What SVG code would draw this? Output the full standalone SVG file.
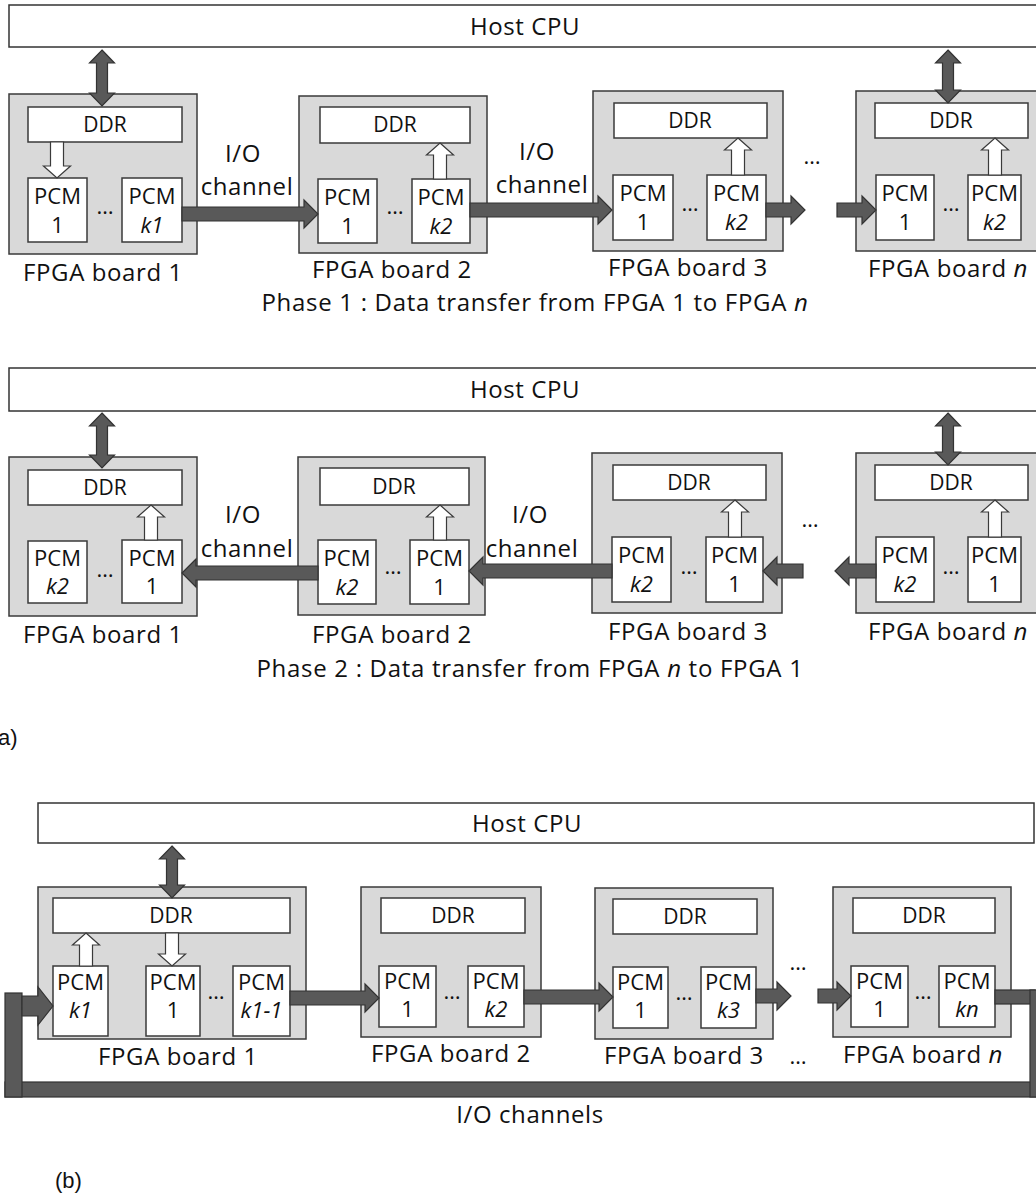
<svg xmlns="http://www.w3.org/2000/svg" width="1036" height="1197" viewBox="0 0 1036 1197">
  <style>
    text { font-family: "Open Sans", "Liberation Sans", sans-serif; fill: #111; text-anchor: middle; }
    .lbl { font-size: 24px; letter-spacing: 0.6px; }
    .phase { font-size: 24px; letter-spacing: 0.7px; }
    .pcm { font-size: 22px; }
    .ddr { font-size: 21px; }
    .cap { font-size: 22px; font-family: "Liberation Sans", Arial, sans-serif; text-anchor: start; }
    .host { fill: #fff; stroke: #333; stroke-width: 1.5; }
    .board { fill: #d9d9d9; stroke: #3a3a3a; stroke-width: 1.5; }
    .box { fill: #fff; stroke: #3a3a3a; stroke-width: 1.5; }
    .dark { fill: #595959; stroke: #333; stroke-width: 1.2; stroke-linejoin: miter; }
    .white { fill: #fff; stroke: #3a3a3a; stroke-width: 1.2; }
    .dots { font-size: 22px; }
  </style>

  <!-- ===================== (a) Phase 1 ===================== -->
  <g id="host-a1">
    <rect class="host" x="9" y="5" width="1040" height="42"/>
    <text class="lbl" x="525" y="35">Host CPU</text>
  </g>

  <g id="a1-board1">
    <rect class="board" x="9" y="94" width="188" height="160"/>
    <rect class="box" x="28" y="107" width="154" height="35"/>
    <text class="ddr" x="105" y="132">DDR</text>
    <rect class="box" x="28" y="178" width="59" height="64"/>
    <text class="pcm" x="57.5" y="204">PCM</text>
    <text class="pcm" x="57.5" y="233">1</text>
    <text class="dots" x="105" y="214">…</text>
    <rect class="box" x="122" y="178" width="60" height="64"/>
    <text class="pcm" x="152" y="204">PCM</text>
    <text class="pcm" x="152" y="233" font-style="italic">k1</text>
    <text class="lbl" x="103" y="281">FPGA board 1</text>
  </g>

  <g id="a1-board2">
    <rect class="board" x="299" y="96" width="188" height="157"/>
    <rect class="box" x="320" y="107" width="150" height="36"/>
    <text class="ddr" x="395" y="132">DDR</text>
    <rect class="box" x="318" y="179" width="59" height="64"/>
    <text class="pcm" x="347.5" y="205">PCM</text>
    <text class="pcm" x="347.5" y="234">1</text>
    <text class="dots" x="395" y="214">…</text>
    <rect class="box" x="412" y="179" width="58" height="64"/>
    <text class="pcm" x="441" y="205">PCM</text>
    <text class="pcm" x="441" y="234" font-style="italic">k2</text>
    <text class="lbl" x="392" y="278">FPGA board 2</text>
  </g>

  <g id="a1-board3">
    <rect class="board" x="593" y="91" width="190" height="160"/>
    <rect class="box" x="614" y="103" width="153" height="35"/>
    <text class="ddr" x="690" y="128">DDR</text>
    <rect class="box" x="613" y="175" width="60" height="65"/>
    <text class="pcm" x="643" y="201">PCM</text>
    <text class="pcm" x="643" y="230">1</text>
    <text class="dots" x="690" y="211">…</text>
    <rect class="box" x="707" y="175" width="59" height="65"/>
    <text class="pcm" x="736.5" y="201">PCM</text>
    <text class="pcm" x="736.5" y="230" font-style="italic">k2</text>
    <text class="lbl" x="688" y="276">FPGA board 3</text>
  </g>

  <text class="dots" x="812" y="164">…</text>

  <g id="a1-boardn">
    <rect class="board" x="856" y="91" width="190" height="160"/>
    <rect class="box" x="875" y="103" width="153" height="35"/>
    <text class="ddr" x="951" y="128">DDR</text>
    <rect class="box" x="876" y="175" width="58" height="65"/>
    <text class="pcm" x="905" y="201">PCM</text>
    <text class="pcm" x="905" y="230">1</text>
    <text class="dots" x="951" y="211">…</text>
    <rect class="box" x="968" y="175" width="53" height="65"/>
    <text class="pcm" x="994.5" y="201">PCM</text>
    <text class="pcm" x="994.5" y="230" font-style="italic">k2</text>
    <text class="lbl" x="948" y="277">FPGA board <tspan font-style="italic">n</tspan></text>
  </g>

  <text class="lbl" x="243" y="162">I/O</text>
  <text class="lbl" x="247" y="195">channel</text>
  <text class="lbl" x="537" y="160">I/O</text>
  <text class="lbl" x="542" y="193">channel</text>
  <text class="phase" x="535" y="311">Phase 1 : Data transfer from FPGA 1 to FPGA <tspan font-style="italic">n</tspan></text>

  <!-- ===================== (a) Phase 2 ===================== -->
  <g id="host-a2">
    <rect class="host" x="9" y="368" width="1040" height="43"/>
    <text class="lbl" x="525" y="398">Host CPU</text>
  </g>

  <g id="a2-board1">
    <rect class="board" x="9" y="457" width="188" height="159"/>
    <rect class="box" x="28" y="470" width="154" height="35"/>
    <text class="ddr" x="105" y="495">DDR</text>
    <rect class="box" x="28" y="541" width="59" height="62"/>
    <text class="pcm" x="57.5" y="566">PCM</text>
    <text class="pcm" x="57.5" y="594" font-style="italic">k2</text>
    <text class="dots" x="105" y="577">…</text>
    <rect class="box" x="122" y="540" width="60" height="63"/>
    <text class="pcm" x="152" y="566">PCM</text>
    <text class="pcm" x="152" y="594">1</text>
    <text class="lbl" x="103" y="643">FPGA board 1</text>
  </g>

  <g id="a2-board2">
    <rect class="board" x="298" y="457" width="187" height="158"/>
    <rect class="box" x="320" y="468" width="149" height="37"/>
    <text class="ddr" x="394" y="494">DDR</text>
    <rect class="box" x="318" y="540" width="58" height="64"/>
    <text class="pcm" x="347" y="566">PCM</text>
    <text class="pcm" x="347" y="595" font-style="italic">k2</text>
    <text class="dots" x="393" y="574">…</text>
    <rect class="box" x="410" y="540" width="59" height="64"/>
    <text class="pcm" x="439.5" y="566">PCM</text>
    <text class="pcm" x="439.5" y="595">1</text>
    <text class="lbl" x="392" y="643">FPGA board 2</text>
  </g>

  <g id="a2-board3">
    <rect class="board" x="592" y="453" width="190" height="160"/>
    <rect class="box" x="613" y="465" width="153" height="35"/>
    <text class="ddr" x="689" y="490">DDR</text>
    <rect class="box" x="612" y="537" width="59" height="65"/>
    <text class="pcm" x="641.5" y="563">PCM</text>
    <text class="pcm" x="641.5" y="592" font-style="italic">k2</text>
    <text class="dots" x="689" y="574">…</text>
    <rect class="box" x="706" y="537" width="57" height="65"/>
    <text class="pcm" x="734.5" y="563">PCM</text>
    <text class="pcm" x="734.5" y="592">1</text>
    <text class="lbl" x="688" y="640">FPGA board 3</text>
  </g>

  <text class="dots" x="810" y="527">…</text>

  <g id="a2-boardn">
    <rect class="board" x="856" y="453" width="190" height="160"/>
    <rect class="box" x="875" y="465" width="153" height="35"/>
    <text class="ddr" x="951" y="490">DDR</text>
    <rect class="box" x="876" y="537" width="58" height="65"/>
    <text class="pcm" x="905" y="563">PCM</text>
    <text class="pcm" x="905" y="592" font-style="italic">k2</text>
    <text class="dots" x="951" y="574">…</text>
    <rect class="box" x="968" y="537" width="53" height="65"/>
    <text class="pcm" x="994.5" y="563">PCM</text>
    <text class="pcm" x="994.5" y="592">1</text>
    <text class="lbl" x="948" y="640">FPGA board <tspan font-style="italic">n</tspan></text>
  </g>

  <text class="lbl" x="243" y="523">I/O</text>
  <text class="lbl" x="247" y="557">channel</text>
  <text class="lbl" x="530" y="523">I/O</text>
  <text class="lbl" x="532" y="557">channel</text>
  <text class="phase" x="530" y="677">Phase 2 : Data transfer from FPGA <tspan font-style="italic">n</tspan> to FPGA 1</text>

  <text class="cap" x="-2" y="745">a)</text>

  <!-- ===================== (b) ring ===================== -->
  <g id="host-b">
    <rect class="host" x="38" y="803" width="996" height="40"/>
    <text class="lbl" x="527" y="832">Host CPU</text>
  </g>

  <g id="b-board1">
    <rect class="board" x="38" y="887" width="268" height="152"/>
    <rect class="box" x="53" y="898" width="237" height="35"/>
    <text class="ddr" x="171" y="923">DDR</text>
    <rect class="box" x="53" y="966" width="55" height="70"/>
    <text class="pcm" x="80.5" y="990">PCM</text>
    <text class="pcm" x="80.5" y="1018" font-style="italic">k1</text>
    <rect class="box" x="146" y="966" width="54" height="70"/>
    <text class="pcm" x="173" y="990">PCM</text>
    <text class="pcm" x="173" y="1018">1</text>
    <text class="dots" x="216" y="999">…</text>
    <rect class="box" x="233" y="966" width="57" height="70"/>
    <text class="pcm" x="261.5" y="990">PCM</text>
    <text class="pcm" x="261.5" y="1018" font-style="italic">k1-1</text>
    <text class="lbl" x="178" y="1065">FPGA board 1</text>
  </g>

  <g id="b-board2">
    <rect class="board" x="361" y="887" width="180" height="150"/>
    <rect class="box" x="381" y="898" width="144" height="35"/>
    <text class="ddr" x="453" y="923">DDR</text>
    <rect class="box" x="379" y="966" width="57" height="61"/>
    <text class="pcm" x="407.5" y="989">PCM</text>
    <text class="pcm" x="407.5" y="1017">1</text>
    <text class="dots" x="452" y="999">…</text>
    <rect class="box" x="468" y="966" width="56" height="61"/>
    <text class="pcm" x="496" y="989">PCM</text>
    <text class="pcm" x="496" y="1017" font-style="italic">k2</text>
    <text class="lbl" x="451" y="1062">FPGA board 2</text>
  </g>

  <g id="b-board3">
    <rect class="board" x="595" y="888" width="178" height="151"/>
    <rect class="box" x="613" y="899" width="144" height="35"/>
    <text class="ddr" x="685" y="924">DDR</text>
    <rect class="box" x="613" y="967" width="55" height="61"/>
    <text class="pcm" x="640.5" y="990">PCM</text>
    <text class="pcm" x="640.5" y="1018">1</text>
    <text class="dots" x="684" y="1000">…</text>
    <rect class="box" x="701" y="967" width="55" height="61"/>
    <text class="pcm" x="728.5" y="990">PCM</text>
    <text class="pcm" x="728.5" y="1018" font-style="italic">k3</text>
    <text class="lbl" x="684" y="1064">FPGA board 3</text>
  </g>

  <text class="dots" x="798" y="970">…</text>
  <text class="dots" x="798" y="1064">…</text>

  <g id="b-boardn">
    <rect class="board" x="833" y="887" width="178" height="150"/>
    <rect class="box" x="853" y="898" width="142" height="35"/>
    <text class="ddr" x="924" y="923">DDR</text>
    <rect class="box" x="851" y="966" width="57" height="61"/>
    <text class="pcm" x="879.5" y="989">PCM</text>
    <text class="pcm" x="879.5" y="1017">1</text>
    <text class="dots" x="923" y="999">…</text>
    <rect class="box" x="939" y="966" width="56" height="61"/>
    <text class="pcm" x="967" y="989">PCM</text>
    <text class="pcm" x="967" y="1017" font-style="italic">kn</text>
    <text class="lbl" x="923" y="1063">FPGA board <tspan font-style="italic">n</tspan></text>
  </g>

  <text class="lbl" x="530" y="1123">I/O channels</text>
  <text class="cap" x="55" y="1188">(b)</text>

  <!-- ===================== connectors ===================== -->
  <g id="connectors">
    <!-- host <-> DDR links -->
    <polygon class="dark" points="102,50 114.5,63 107.5,63 107.5,93 114.5,93 102,106 89.5,93 96.5,93 96.5,63 89.5,63"/>
    <polygon class="dark" points="948,50 960.5,63 953.5,63 953.5,90 960.5,90 948,103 935.5,90 942.5,90 942.5,63 935.5,63"/>
    <polygon class="dark" points="102,413 114.5,426 107.5,426 107.5,455 114.5,455 102,468 89.5,455 96.5,455 96.5,426 89.5,426"/>
    <polygon class="dark" points="948,413 960.5,426 953.5,426 953.5,452 960.5,452 948,465 935.5,452 942.5,452 942.5,426 935.5,426"/>
    <polygon class="dark" points="172,846 184.5,859 177.5,859 177.5,885 184.5,885 172,898 159.5,885 166.5,885 166.5,859 159.5,859"/>

    <!-- DDR <-> PCM transfers -->
    <polygon class="white" points="50.5,142 63.5,142 63.5,166 70.5,166 57,178 43.5,166 50.5,166"/>
    <polygon class="white" points="440,143 453.5,155 446.5,155 446.5,179 433.5,179 433.5,155 426.5,155"/>
    <polygon class="white" points="738,138 751.5,150 744.5,150 744.5,175 731.5,175 731.5,150 724.5,150"/>
    <polygon class="white" points="995,138 1008.5,150 1001.5,150 1001.5,175 988.5,175 988.5,150 981.5,150"/>
    <polygon class="white" points="151,505 164.5,517 157.5,517 157.5,540 144.5,540 144.5,517 137.5,517"/>
    <polygon class="white" points="440,505 453.5,517 446.5,517 446.5,540 433.5,540 433.5,517 426.5,517"/>
    <polygon class="white" points="735,500 748.5,512 741.5,512 741.5,537 728.5,537 728.5,512 721.5,512"/>
    <polygon class="white" points="995,500 1008.5,512 1001.5,512 1001.5,537 988.5,537 988.5,512 981.5,512"/>
    <polygon class="white" points="86,933 99.5,945 92.5,945 92.5,966 79.5,966 79.5,945 72.5,945"/>
    <polygon class="white" points="165.5,933 178.5,933 178.5,954 185.5,954 172,966 158.5,954 165.5,954"/>

    <!-- phase 1 I/O channels -->
    <polygon class="dark" points="182,207 304,207 304,200 318,214 304,228 304,221 182,221"/>
    <polygon class="dark" points="470,203 598,203 598,196 612,210 598,224 598,217 470,217"/>
    <polygon class="dark" points="766,203 791,203 791,196 805,210 791,224 791,217 766,217"/>
    <polygon class="dark" points="837,203 862,203 862,196 876,210 862,224 862,217 837,217"/>

    <!-- phase 2 I/O channels -->
    <polygon class="dark" points="182,573 196,559 196,566 318,566 318,580 196,580 196,587"/>
    <polygon class="dark" points="469,571 483,557 483,564 612,564 612,578 483,578 483,585"/>
    <polygon class="dark" points="763,571 777,557 777,564 803,564 803,578 777,578 777,585"/>
    <polygon class="dark" points="835,571 849,557 849,564 876,564 876,578 849,578 849,585"/>

    <!-- ring I/O channels -->
    <polygon class="dark" points="290,991 365,991 365,984 379,998 365,1012 365,1005 290,1005"/>
    <polygon class="dark" points="524,990 599,990 599,983 613,997 599,1011 599,1004 524,1004"/>
    <polygon class="dark" points="756,989 777,989 777,982 791,996 777,1010 777,1003 756,1003"/>
    <polygon class="dark" points="818,989 837,989 837,982 851,996 837,1010 837,1003 818,1003"/>

    <!-- return path from board n back to board 1 -->
    <rect class="dark" x="5" y="1082" width="1045" height="15"/>
    <rect class="dark" x="5" y="993" width="17" height="104"/>
    <rect class="dark" x="995" y="990" width="40" height="14"/>
    <rect class="dark" x="1030" y="990" width="20" height="107"/>
    <polygon class="dark" points="22,996 38,996 38,987 53,1006 38,1025 38,1016 22,1016"/>
  </g>
</svg>
